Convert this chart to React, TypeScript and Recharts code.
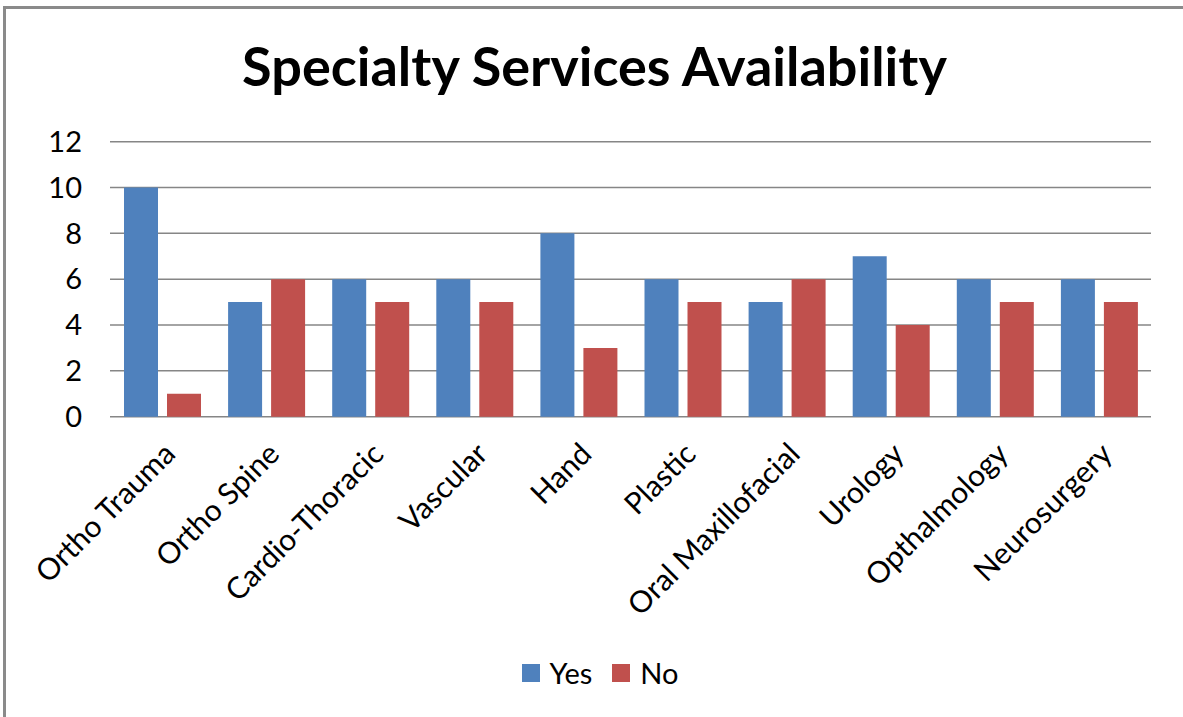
import React from 'react';
import { BarChart, Bar, XAxis, YAxis, CartesianGrid } from 'recharts';

const categories = ['Ortho Trauma', 'Ortho Spine', 'Cardio-Thoracic', 'Vascular', 'Hand', 'Plastic', 'Oral Maxillofacial', 'Urology', 'Opthalmology', 'Neurosurgery'];
const yesValues = [10, 5, 6, 6, 8, 6, 5, 7, 6, 6];
const noValues = [1, 6, 5, 5, 3, 5, 6, 4, 5, 5];
const yTicks = [0, 2, 4, 6, 8, 10, 12];
const seriesNames = ['Yes', 'No'];
const seriesColors = ['#4F81BD', '#C0504D'];
const title = 'Specialty Services Availability';

const data = categories.map((c, i) => ({ name: c, Yes: yesValues[i], No: noValues[i] }));

const FONT = 'Lato, "Liberation Sans", sans-serif';

const XTick = (props: any) => {
  const { x, y, payload } = props;
  return (
    <text
      x={x}
      y={y}
      transform={`rotate(-45, ${x}, ${y})`}
      textAnchor="end"
      dy="0.71em"
      fontFamily={FONT}
      fontSize={30}
      fill="#000"
    >
      {payload.value}
    </text>
  );
};

export default function App() {
  return (
    <div style={{ position: 'absolute', left: 0, top: 0, width: 1183, height: 717, background: '#fff', overflow: 'hidden' }}>
      <div style={{ position: 'absolute', left: 3, top: 6, width: 1200, height: 800, borderTop: '3px solid #8a8a8a', borderLeft: '3px solid #8a8a8a' }} />
      <div style={{ position: 'absolute', left: 0, top: 31, width: 1189, textAlign: 'center', fontFamily: FONT, fontWeight: 700, fontSize: 54, lineHeight: '70px', color: '#000' }}>
        {title}
      </div>
      <div style={{ position: 'absolute', left: 0, top: 0 }}>
        <BarChart
          width={1183}
          height={717}
          data={data}
          margin={{ top: 141.7, right: 32, left: 30, bottom: 50.3 }}
          barSize={34}
          barGap={9}
        >
          <CartesianGrid vertical={false} stroke="#868686" strokeWidth={1.5} />
          <XAxis
            dataKey="name"
            interval={0}
            axisLine={false}
            tickLine={false}
            tickSize={0}
            tickMargin={24}
            height={250}
            tick={<XTick />}
          />
          <YAxis
            domain={[0, 12]}
            ticks={yTicks}
            axisLine={false}
            tickLine={false}
            tickSize={0}
            tickMargin={28}
            width={80}
            tick={{ fontFamily: FONT, fontSize: 29, fill: '#000' }}
          />
          <Bar dataKey="Yes" fill={seriesColors[0]} isAnimationActive={false} />
          <Bar dataKey="No" fill={seriesColors[1]} isAnimationActive={false} />
        </BarChart>
      </div>
      <div style={{ position: 'absolute', left: 0, top: 655, width: 1200, display: 'flex', justifyContent: 'center', alignItems: 'center', fontFamily: FONT, fontSize: 29, color: '#000' }}>
        {seriesNames.map((n, i) => (
          <div key={n} style={{ display: 'flex', alignItems: 'center', marginRight: i === 0 ? 20 : 0 }}>
            <div style={{ width: 18, height: 18, background: seriesColors[i], marginRight: 10 }} />
            <span>{n}</span>
          </div>
        ))}
      </div>
    </div>
  );
}
